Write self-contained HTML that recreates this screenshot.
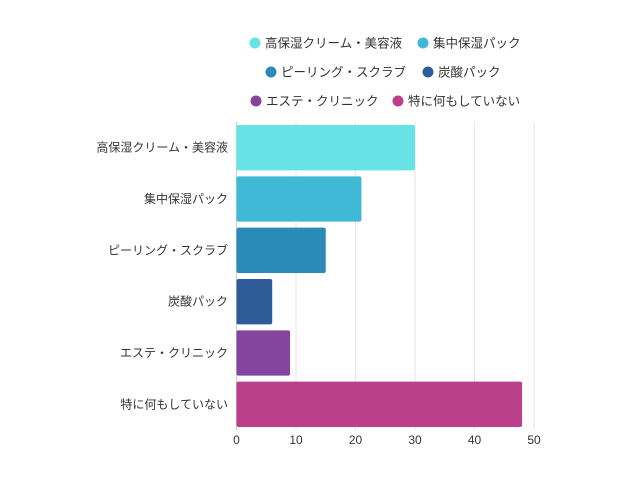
<!DOCTYPE html>
<html><head><meta charset="utf-8">
<style>
body{margin:0;background:#fff;}
svg text{font-family:"Liberation Sans","Noto Sans CJK JP",sans-serif;}
</style></head>
<body>
<svg id="chart" width="640" height="480" viewBox="0 0 640 480" xmlns="http://www.w3.org/2000/svg">
<g id="grid"></g>
<g id="bars"></g>
<g id="ylabels"></g>
<g id="xticks"></g>
<g id="legend"></g>
</svg>
<script>
const categories = ["高保湿クリーム・美容液","集中保湿パック","ピーリング・スクラブ","炭酸パック","エステ・クリニック","特に何もしていない"];
const values = [30,21,15,6,9,48];
const colors = ["#67e3e6","#40b9d6","#2a8ab8","#2e5c98","#85449e","#bc3f8c"];
const xTicks = [0,10,20,30,40,50];
const NS="http://www.w3.org/2000/svg";
const x0=236.5,x1=534,xMax=50,yTop=122,yBot=430;
const xs=v=>x0+(x1-x0)*v/xMax;
const band=(yBot-yTop)/categories.length;
function mk(t,a,p){const e=document.createElementNS(NS,t);for(const k in a)e.setAttribute(k,a[k]);p.appendChild(e);return e;}
const grid=document.getElementById('grid'),bars=document.getElementById('bars'),yl=document.getElementById('ylabels'),xt=document.getElementById('xticks'),lg=document.getElementById('legend');
xTicks.forEach(t=>{
  const l=mk('line',{x1:xs(t),x2:xs(t),y1:yTop,y2:yBot,stroke:t===0?'#ccc':'#e6e6e6','stroke-width':1},grid);
  
  
  const tx=mk('text',{x:xs(t),y:444,'font-size':12,fill:'#333','text-anchor':'middle'},xt);
  tx.textContent=t;
  
  
});
categories.forEach((c,i)=>{
  const y=yTop+band*i+3;
  const r=mk('rect',{x:x0,y:y,width:xs(values[i])-x0,height:band-6,rx:2,fill:colors[i]},bars);
  
  
  const t=mk('text',{x:228,y:y+(band-6)/2+4,'font-size':12,fill:'#333','text-anchor':'end'},yl);
  t.textContent=c;
  
  
});
const legendPos=[[255,43],[423,43],[271,72],[428,72],[256,101],[398,101]];
categories.forEach((c,i)=>{
  const [cx,cy]=legendPos[i];
  const g=mk('g',{},lg);
  
  
  mk('circle',{cx:cx,cy:cy,r:5.5,fill:colors[i]},g);
  const t=mk('text',{x:cx+10,y:cy+4.5,'font-size':12.5,fill:'#333'},g);
  t.textContent=c;
});
</script>
</body></html>
